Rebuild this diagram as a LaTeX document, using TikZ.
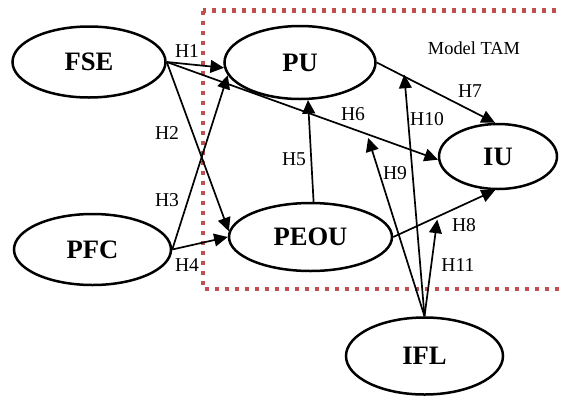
\documentclass[tikz,border=0pt]{standalone}
\usepackage{fontspec}
\setmainfont{Liberation Serif}
\usetikzlibrary{arrows.meta,positioning,shapes.geometric,calc}
\definecolor{tamred}{HTML}{C0504D}

\begin{document}
\begin{tikzpicture}[
    x=0.5pt, y=-0.5pt,
    % 全域樣式設定
    construct/.style={draw, ellipse, line width=1.25pt, fill=white, inner sep=0pt,
        font=\fontsize{13.3}{16}\selectfont\bfseries}, % 構面橢圓
    hypo/.style={line width=0.85pt, -{Triangle[length=6.8pt, width=6.4pt]}}, % 假設路徑箭頭
    hlabel/.style={font=\fontsize{9.8}{12}\selectfont, inner sep=0pt}, % 假設編號
    tam box/.style={draw=tamred, line width=2.15pt, dash pattern=on 2.15pt off 2.85pt} % 紅色點線框
]
    \useasboundingbox (0,0) rectangle (562,397);

    % --- 1. 繪製 TAM 模型的點線框 (右緣在圖外) ---
    \draw[tam box] (203,10.5) rectangle (566,289);
    \node[font=\fontsize{9.2}{11}\selectfont] (tam) at (474,48) {Model TAM};

    % --- 2. 繪製各構面 ---
    \node[construct, minimum width=76.5pt, minimum height=35.5pt] (FSE) at (89,62) {FSE};
    \node[construct, minimum width=75.5pt, minimum height=36.5pt] (PU) at (300,62.5) {PU};
    \node[construct, minimum width=59pt, minimum height=32.5pt] (IU) at (498,156.5) {IU};
    \node[construct, minimum width=78.5pt, minimum height=35.5pt] (PFC) at (92.5,249.5) {PFC};
    \node[construct, minimum width=81.5pt, minimum height=34pt] (PEOU) at (310.5,237) {PEOU};
    \node[construct, minimum width=78.5pt, minimum height=38.5pt] (IFL) at (424.5,356) {IFL};

    % --- 3. 繪製假設路徑 ---
    \draw[hypo] (FSE.east) -- (PU.184);
    \draw[hypo] (FSE.east) -- (PEOU.176);
    \draw[hypo] (PFC.east) -- (PU.190);
    \draw[hypo] (PFC.east) -- (PEOU.180);
    \draw[hypo] (PEOU.85) -- (PU.-78);
    \draw[hypo] (FSE.east) -- (IU.183);
    \draw[hypo] (PU.east) -- (IU.95);
    \draw[hypo] (PEOU.east) -- (IU.-95);

    % 調節效果的落點 (位於被調節的路徑上)
    \path (FSE.east) -- (IU.183) coordinate[pos=0.738] (onHsix);
    \path (PU.east) -- (IU.95) coordinate[pos=0.234] (onHseven);
    \path (PEOU.east) -- (IU.-95) coordinate[pos=0.436] (onHeight);

    \draw[hypo, shorten >=2pt] (IFL.north) -- (onHsix);
    \draw[hypo, shorten >=-1pt] (IFL.north) -- (onHseven);
    \draw[hypo, shorten >=1.5pt] (IFL.north) -- (onHeight);

    % --- 4. 假設編號 ---
    \node[hlabel] (h1) at (187,51) {H1};
    \node[hlabel] (h2) at (167,133) {H2};
    \node[hlabel] (h3) at (167,200) {H3};
    \node[hlabel] (h4) at (187,265) {H4};
    \node[hlabel] (h5) at (294,159) {H5};
    \node[hlabel] (h6) at (353,114) {H6};
    \node[hlabel] (h7) at (470,91) {H7};
    \node[hlabel] (h8) at (464,225) {H8};
    \node[hlabel] (h9) at (395,173) {H9};
    \node[hlabel] (h10) at (427,119) {H10};
    \node[hlabel] (h11) at (458,265) {H11};

\end{tikzpicture}
\end{document}
